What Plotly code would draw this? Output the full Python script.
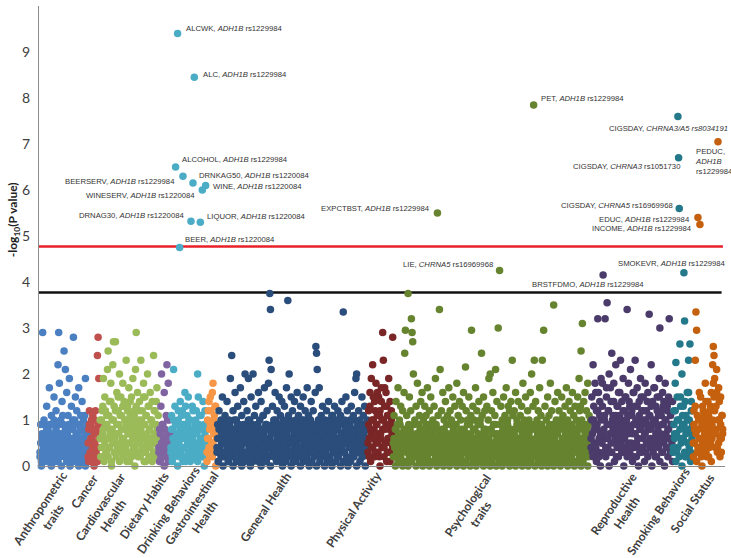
import plotly.graph_objects as go

# ---------------- data ----------------
categories = ["Anthropometric<br>traits", "Cancer", "Cardiovascular<br>Health", "Dietary Habits",
              "Drinking Behaviors", "Gastrointestinal<br>Health", "General Health", "Physical Activity",
              "Psychological<br>traits", "Reproductive<br>Health", "Smoking Behaviors", "Social Status"]

# lead SNP result per phenotype (in phenotype order)
anthro = [0.3,0.9,0.1,0.6,2.9,0.4,1.0,0.2,0.7,0.5,1.3,0.1,
          0.8,0.3,1.7,0.6,0.2,1.1,0.4,0.9,0.1,1.5,0.6,0.3,
          1.2,0.5,0.7,2.2,2.9,1.8,0.2,1.0,0.6,1.4,0.3,0.9,
          2.5,0.4,2.1,0.7,1.6,0.1,1.1,0.5,1.9,0.8,0.3,1.3,
          0.6,1.0,2.8,0.2,0.9,1.5,0.4,1.2,0.7,0.1,1.7,0.5,
          0.8,1.1,0.3,1.4,0.6,1.0,0.2,0.7,1.9,0.4,0.9,0.1]
cancer = [0.2,0.8,1.2,0.5,0.9,0.1,0.6,1.1,0.3,0.7,1.0,0.4,0.8,0.2,2.4,2.8,1.9,0.6]
cardio = [0.4,1.2,0.7,1.9,0.2,1.5,0.9,0.3,1.1,2.1,2.5,0.6,1.4,0.8,1.8,0.1,1.0,2.2,2.7,1.3,0.5,2.7,0.7,1.6,
          0.3,1.2,0.9,2.0,0.4,1.5,1.1,0.6,1.8,0.2,1.4,0.8,1.0,2.3,0.5,1.3,0.7,1.7,0.1,1.1,0.9,1.5,0.3,1.9,
          0.6,1.2,0.4,2.1,2.9,0.8,1.6,0.2,1.0,1.4,0.5,2.3,0.7,1.2,0.3,1.8,0.9,1.5,0.1,1.1,0.6,2.0,0.4,1.3,
          0.8,1.6,0.2,1.0,1.4,0.5,2.4,0.7,1.2,0.3,0.9,1.7,0.6,1.1,0.2,1.5]
dietary = [0.3,0.8,0.1,1.3,2.0,0.5,0.9,0.2,1.6,0.6,0.4,1.1,2.2,0.7,1.8,0.3,1.0,0.5]
drinking = [0.4,1.1,0.2,0.8,2.1,0.5,1.3,6.5,0.9,0.3,9.4,1.0,
            0.6,4.75,1.4,0.2,0.7,1.2,6.3,0.4,0.9,1.6,0.1,0.8,
            1.1,0.5,1.5,0.3,0.7,1.0,5.32,0.6,1.3,6.15,0.2,8.45,
            0.9,0.4,1.2,0.7,2.0,1.5,0.3,1.1,5.3,0.6,0.8,6.0,
            1.4,0.2,0.9,1.2,6.1,0.5]
gastro = [0.3,1.0,0.6,1.4,0.2,0.9,1.2,0.5,1.6,1.8,0.7,1.1,0.4,1.3,0.8]
general = [0.4,0.9,0.1,1.2,0.6,0.3,1.0,0.7,1.5,0.2,0.8,0.5,1.1,0.3,0.9,1.4,0.6,0.1,1.0,0.4,
           1.9,0.7,2.4,0.2,1.2,0.8,0.5,1.6,0.3,1.0,0.6,1.3,0.1,0.9,0.4,1.7,0.7,1.1,0.2,0.8,
           1.4,0.5,2.0,0.9,0.3,1.2,0.6,1.9,0.1,1.0,0.7,1.5,0.4,0.8,2.0,0.2,1.1,0.6,1.3,0.3,
           0.9,0.5,1.6,0.2,1.0,0.7,1.4,0.4,0.8,1.1,0.3,1.7,0.6,0.9,0.1,1.2,0.5,1.8,2.3,3.75,
           3.4,2.1,0.7,1.3,0.4,1.0,0.2,1.6,0.8,0.5,1.2,0.3,0.9,1.5,0.6,1.1,0.1,1.4,0.7,1.0,
           0.4,1.3,0.8,0.2,1.7,0.6,3.6,1.1,2.0,0.3,0.9,1.5,0.5,1.2,0.1,0.8,1.4,0.6,1.0,0.3,
           1.6,0.7,1.1,0.4,0.9,1.3,0.2,1.0,0.6,1.5,0.3,0.8,1.2,0.5,0.9,1.7,0.1,1.1,0.7,0.4,
           1.0,1.4,0.3,0.8,1.2,0.5,0.9,1.6,2.6,2.45,2.1,0.6,1.0,1.7,0.2,0.8,1.1,0.4,1.3,0.7,
           0.9,0.3,1.0,0.6,1.2,0.2,0.8,1.4,0.5,1.0,0.1,0.7,1.1,0.4,0.9,0.6,1.3,0.3,0.8,1.0,
           0.5,1.2,0.2,0.9,0.6,1.1,0.4,1.4,0.7,3.35,0.3,1.0,0.8,1.5,0.5,1.2,0.1,0.9,0.6,1.0,
           0.4,1.3,0.7,0.2,1.1,0.8,1.6,0.5,1.9,2.0,0.3,0.9,1.2,0.6,1.0,0.4,0.8,1.5,0.2,1.1,
           0.7,1.3,0.4,0.9,0.6,1.0]
physical = [0.5,1.2,0.2,1.6,0.8,1.9,0.4,2.2,1.0,0.6,1.4,0.3,1.8,0.9,1.1,0.5,1.5,0.2,1.2,0.7,
            1.7,1.0,2.9,2.3,0.4,1.3,0.8,1.6,0.1,1.1,0.6,1.9,0.3,1.4,0.9,1.2,0.5,2.8]
psych = [0.5,1.1,0.2,0.8,1.4,0.4,0.9,1.7,0.3,1.0,0.6,1.3,0.1,0.7,1.2,0.4,1.6,2.45,2.95,0.8,
         1.1,0.3,3.75,0.9,1.5,0.5,1.2,3.2,2.9,2.7,2.0,0.6,1.0,0.2,1.3,0.7,1.8,0.4,0.9,1.1,
         0.3,1.4,0.8,1.6,0.5,1.0,0.2,1.3,0.7,1.1,0.4,1.7,0.9,0.6,1.2,0.3,1.5,0.8,0.1,1.0,
         0.6,1.3,0.4,1.9,0.9,0.2,5.5,1.1,0.7,3.4,2.1,0.5,1.2,0.8,1.6,0.3,1.0,0.6,1.4,0.2,
         0.9,1.1,0.5,1.7,0.3,1.2,0.7,1.0,0.4,1.5,0.8,0.1,1.3,0.6,0.9,1.8,0.4,1.1,0.7,1.4,
         0.2,1.0,0.6,1.3,0.5,1.6,0.8,0.3,2.15,1.2,0.7,1.0,0.4,1.5,0.9,0.2,1.1,2.95,0.6,1.3,
         0.3,1.0,0.8,1.7,0.5,1.2,0.1,0.9,1.4,0.6,1.0,0.3,2.45,1.1,0.7,1.5,0.4,1.2,0.8,0.2,
         1.3,0.6,1.0,1.9,0.4,2.0,0.8,1.2,0.3,1.6,0.9,0.5,1.1,2.1,0.7,1.4,0.2,3.0,0.6,4.25,
         0.9,1.3,0.5,1.0,0.2,1.5,0.8,1.1,0.4,1.7,0.6,1.0,1.3,0.3,1.2,0.7,1.4,0.5,2.3,1.1,
         0.4,1.2,0.8,1.6,0.3,1.0,0.6,1.4,0.1,0.9,1.1,0.5,1.3,0.7,1.8,0.2,1.0,0.6,1.5,0.9,
         0.3,1.2,0.7,1.0,0.4,1.6,0.8,2.0,0.5,1.3,7.85,2.3,0.9,1.4,0.6,1.0,0.3,1.2,0.8,1.7,
         0.5,1.1,0.9,2.3,0.4,2.95,0.7,1.3,0.2,1.0,0.6,1.5,0.3,1.1,0.8,1.8,0.5,1.2,0.1,0.9,
         3.5,0.6,1.4,0.3,1.0,0.7,1.6,0.4,1.2,0.8,1.0,0.2,1.5,0.6,1.1,0.9,0.3,1.3,0.5,1.7,
         0.8,1.0,0.4,1.4,0.7,1.2,0.2,0.9,1.6,0.5,1.1,0.3,1.3,0.8,1.0,0.6,1.5,0.4,1.9,1.2,
         1.3,2.5,1.0,3.1,0.3,1.4,0.9,1.6,0.5,1.2,0.8,1.8,0.2,1.1,0.6,1.0]
repro = [0.6,1.5,0.3,2.2,1.0,0.8,1.8,0.4,1.2,0.9,3.2,1.6,0.2,1.1,0.7,1.9,0.5,1.3,4.15,0.8,
         1.0,3.2,0.4,1.7,3.55,0.6,1.2,2.0,0.9,0.3,1.4,2.45,0.7,1.1,1.8,0.5,1.0,2.2,0.2,1.3,
         0.8,1.6,0.4,1.1,2.3,0.6,1.4,0.9,1.9,0.3,1.2,0.7,1.5,1.0,3.4,0.5,1.8,0.8,1.3,2.1,
         0.4,1.1,0.7,1.6,0.2,1.3,2.3,0.9,0.5,1.7,1.0,0.6,1.4,0.3,1.9,0.8,1.2,0.4,1.5,1.0,
         0.7,1.8,0.3,1.2,0.9,1.6,0.5,3.3,1.1,0.8,2.2,0.4,1.4,1.0,0.6,1.7,0.2,1.3,0.9,1.5,
         0.5,1.1,1.9,3.0,0.7,1.2,0.3,1.6,0.9,1.4,0.6,1.8,1.0,0.4,1.3,0.8,1.5,3.2,0.6,1.1,
         0.3,0.9,1.4]
smoking = [0.4,1.2,0.7,1.8,2.25,0.3,1.0,7.6,6.7,5.6,2.65,1.5,0.6,2.0,0.9,1.3,4.2,3.15,0.2,1.1,
           0.8,1.6,0.5,2.3,1.0,2.65,0.3,1.4,0.7,1.2]
social = [0.5,1.2,0.8,2.3,3.35,2.95,0.3,5.4,1.0,0.6,5.25,1.5,0.2,0.9,1.3,0.4,1.1,0.7,1.8,0.3,
          1.0,0.6,1.4,0.2,0.8,1.2,0.5,1.6,0.9,2.2,2.6,2.4,1.9,0.7,1.3,2.1,0.4,7.05,1.7,1.0,
          0.6,1.5,0.3,1.1,0.8]

# results of the other SNPs for the same phenotypes
anthro2 = [0.2,0.5,0.0,0.7,0.3,0.9,0.1,0.4,0.6,0.2,0.8,0.3,
           0.5,0.1,0.9,0.4,0.7,0.0,0.3,0.6,0.2,1.0,0.5,0.1,
           0.8,0.3,0.6,0.1,0.4,0.9,0.2,0.7,0.0,0.5,1.1,0.3,
           0.6,0.2,0.8,0.4,0.1,0.7,0.3,0.9,0.5,0.0,0.6,0.2,
           0.4,0.8,0.1,0.5,1.0,0.3,0.7,0.2,0.6,0.4,0.0,0.9,
           0.3,0.5,0.1,0.8,0.2,0.6,0.4,1.1,0.0,0.5,0.3,0.7]
cancer2 = [0.5,0.1,0.9,0.3,0.6,1.0,0.2,0.4,0.8,0.0,0.5,1.2,0.3,0.7,0.1,0.9,0.4,0.2]
cardio2 = [0.6,0.2,1.0,0.4,1.3,0.8,0.1,0.5,1.2,0.3,0.9,0.6,0.2,1.1,0.4,0.7,1.4,0.0,0.8,0.5,
           1.0,0.3,0.6,1.2,0.2,0.9,0.4,1.5,0.7,0.1,1.1,0.5,0.8,0.3,1.3,0.6,0.2,1.0,0.4,0.9,
           0.1,1.2,0.7,0.3,0.5,1.4,0.8,0.2,1.0,0.6,0.4,1.1,0.0,0.7,1.3,0.5,0.9,0.3,1.2,0.6,
           0.2,0.8,1.0,0.4,0.6,1.5,0.1,0.9,0.3,1.1,0.7,0.5,1.3,0.2,0.8,0.4,1.0,0.6,0.1,0.9,
           0.3,1.2,0.5,0.7,1.4,0.2,0.8,0.4,1.0,0.6]
dietary2 = [0.4,0.1,0.7,0.2,0.5,0.9,0.3,0.6,0.0,0.8,0.2,0.5,0.4,1.0,0.1,0.6,0.3,0.7]
drinking2 = [0.3,0.8,0.1,0.6,1.0,0.2,0.5,0.9,0.4,0.7,0.0,1.2,
             0.5,0.2,0.8,0.3,1.1,0.6,0.1,0.9,0.4,0.7,1.3,0.2,
             0.6,0.9,0.3,1.0,0.5,0.1,0.8,0.4,0.6,1.2,0.3,0.7,
             0.2,1.0,0.5,0.8,0.1,0.4,0.9,0.3,0.6,1.1,0.2,0.5,
             0.8,0.4,0.0,0.7,0.3,0.9]
gastro2 = [0.1,0.6,1.2,0.4,0.8,1.5,0.3,0.9,0.2,0.5,1.0,0.7,1.3,0.0,0.6]
general2 = [0.3,0.6,0.1,0.8,0.4,0.9,0.2,0.5,0.7,0.0,1.0,0.3,0.6,0.2,0.8,0.4,0.5,0.1,0.7,0.9,
            0.2,0.5,0.3,0.8,0.0,0.6,1.0,0.4,0.7,0.1,0.5,0.9,0.3,0.6,0.2,0.8,0.4,0.0,0.7,0.5,
            0.9,0.1,0.6,0.3,0.8,0.2,0.5,1.0,0.4,0.7,0.0,0.3,0.6,0.9,0.1,0.5,0.8,0.2,0.4,0.7,
            0.3,0.9,0.1,0.6,0.4,0.8,0.0,0.5,0.2,1.1,0.7,0.3,0.6,0.1,0.9,0.4,0.8,0.2,0.5,0.6,
            0.0,0.7,0.3,0.9,0.5,0.2,0.8,0.4,1.0,0.1,0.6,0.3,0.7,0.5,0.9,0.2,0.4,0.8,0.0,0.6,
            0.3,0.5,0.9,0.1,0.7,0.4,0.2,0.8,0.6,1.0,0.3,0.0,0.5,0.9,0.2,0.7,0.4,0.6,0.1,0.8,
            0.5,0.2,0.9,0.3,0.6,0.0,0.8,0.4,0.7,0.1,1.0,0.5,0.3,0.6,0.2,0.9,0.4,0.8,0.0,0.7,
            0.3,0.6,0.1,0.5,0.9,0.2,0.7,0.4,0.8,0.0,0.6,0.3,1.0,0.5,0.1,0.7,0.9,0.2,0.4,0.6,
            0.8,0.0,0.5,0.3,0.7,0.1,0.9,0.4,0.6,0.2,0.8,0.5,0.0,1.1,0.3,0.7,0.4,0.9,0.1,0.6,
            0.2,0.8,0.5,0.3,1.0,0.0,0.7,0.4,0.6,0.1,0.9,0.3,0.5,0.8,0.2,0.6,0.0,0.7,0.4,0.9,
            0.1,0.5,0.8,0.3,0.6,0.2,1.0,0.4,0.7,0.0,0.5,0.9,0.3,0.6,0.1,0.8,0.4,0.2,0.7,0.5,
            0.3,0.9,0.0,0.6,0.4,0.8]
physical2 = [0.3,0.9,0.6,1.3,0.1,0.7,1.0,0.4,1.5,0.8,0.2,1.2,0.5,0.9,1.6,0.3,0.7,1.1,0.0,0.6,
             1.4,0.4,0.8,1.0,0.2,1.7,0.5,0.9,1.3,0.3,0.6,1.1,0.8,0.1,0.5,1.0,0.7,0.4]
psych2 = [0.2,0.6,0.4,0.0,0.8,0.3,0.5,0.1,0.7,0.4,0.9,0.2,0.6,0.3,0.0,0.5,0.8,0.1,0.4,0.7,
          0.3,0.6,0.0,0.5,0.2,0.8,0.4,0.1,0.7,0.3,0.6,0.9,0.2,0.5,0.0,0.4,0.7,0.3,0.6,0.1,
          0.8,0.2,0.5,0.4,0.0,0.7,0.3,0.6,0.1,0.9,0.4,0.2,0.5,0.8,0.0,0.3,0.6,0.4,0.7,0.1,
          0.5,0.3,0.9,0.2,0.6,0.0,0.4,0.8,0.1,0.5,0.7,0.3,0.2,0.6,0.4,0.0,0.8,0.5,0.1,0.3,
          0.7,0.4,0.2,0.6,0.0,0.9,0.3,0.5,0.1,0.7,0.4,0.8,0.2,0.6,0.3,0.0,0.5,0.7,0.1,0.4,
          0.6,0.2,0.8,0.3,0.5,0.0,0.4,0.7,0.1,0.6,0.3,0.9,0.2,0.5,0.4,0.0,0.7,0.3,0.6,0.1,
          0.8,0.4,0.2,0.5,0.0,0.6,0.3,0.7,0.1,0.4,0.9,0.2,0.5,0.3,0.6,0.0,0.8,0.4,0.1,0.7,
          0.3,0.5,0.2,0.6,0.4,0.0,0.8,0.1,0.5,0.3,0.7,0.2,0.4,0.9,0.0,0.6,0.3,0.5,0.1,0.7,
          0.4,0.2,0.6,0.0,0.8,0.3,0.5,0.1,0.7,0.4,0.2,0.9,0.3,0.6,0.0,0.5,0.8,0.1,0.4,0.6,
          0.2,0.7,0.3,0.0,0.5,0.9,0.1,0.4,0.6,0.2,0.8,0.3,0.5,0.0,0.7,0.4,0.1,0.6,0.3,0.8,
          0.5,0.2,0.0,0.7,0.4,0.6,0.1,0.9,0.3,0.5,0.2,0.8,0.0,0.4,0.6,0.3,0.7,0.1,0.5,0.2,
          0.9,0.4,0.0,0.6,0.3,0.7,0.1,0.5,0.8,0.2,0.4,0.0,0.6,0.3,0.9,0.1,0.5,0.7,0.2,0.4,
          0.0,0.6,0.8,0.3,0.5,0.1,0.7,0.4,0.2,0.9,0.0,0.5,0.3,0.6,0.1,0.8,0.4,0.2,0.7,0.5,
          0.3,0.0,0.6,0.9,0.1,0.4,0.7,0.2,0.5,0.3,0.8,0.0,0.6,0.4,0.1,0.7,0.3,0.5,0.9,0.2,
          0.6,0.0,0.4,0.8,0.1,0.5,0.3,0.7,0.2,0.6,0.4,0.0,0.9,0.5,0.3,0.7]
repro2 = [0.4,1.0,0.7,0.2,1.3,0.5,0.9,1.6,0.1,0.8,1.2,0.3,0.6,1.4,0.0,1.0,0.5,1.8,0.7,0.3,
          1.1,0.6,0.2,1.5,0.9,0.4,1.2,0.0,0.7,1.7,0.5,0.3,1.0,0.8,1.4,0.1,0.6,1.1,0.9,0.4,
          1.3,0.2,0.7,1.6,0.5,1.0,0.3,0.8,1.2,0.0,0.6,1.5,0.4,0.9,0.2,1.1,0.7,1.4,0.3,0.8,
          0.5,1.2,0.1,0.9,1.6,0.4,0.7,1.0,0.2,1.3,0.6,0.0,1.1,0.8,0.4,1.5,0.3,0.9,0.6,1.2,
          0.1,0.7,1.0,0.5,1.4,0.2,0.8,1.1,0.4,0.6,1.3,0.0,0.9,0.3,1.7,0.5,1.0,0.7,0.2,1.2,
          0.8,0.4,1.5,0.1,0.6,1.1,0.9,0.3,1.3,0.5,0.0,1.0,0.7,0.4,1.2,0.2,0.8,0.6,1.4,0.3,
          0.9,0.5,0.1]
smoking2 = [0.3,0.9,0.6,1.2,0.1,0.7,1.5,0.4,1.0,0.2,0.8,1.3,0.5,0.0,1.1,0.6,0.9,0.3,1.4,0.7,
            0.2,1.0,0.5,1.6,0.4,0.8,0.1,1.2,0.6,0.9]
social2 = [0.2,0.9,0.5,1.3,0.7,0.1,1.1,0.4,0.8,1.6,0.3,0.6,1.0,0.0,0.5,1.2,0.8,0.3,0.6,1.4,
           0.2,0.9,0.5,1.1,0.4,0.7,1.3,0.1,0.6,1.0,1.8,1.5,1.2,0.4,0.8,1.6,0.3,1.0,0.5,1.4,
           0.2,0.9,0.6,1.1,0.7]

series = [anthro, cancer, cardio, dietary, drinking, gastro, general, physical, psych, repro, smoking, social]
series2 = [anthro2, cancer2, cardio2, dietary2, drinking2, gastro2, general2, physical2, psych2, repro2,
           smoking2, social2]

colors = ["#4A7FC1", "#C0504D", "#9BBB59", "#8064A2", "#4BACC6", "#F79646",
          "#2B4D7B", "#7A2626", "#66842F", "#4B3B6B", "#23788A", "#C5600E"]

# significance thresholds (-log10 P)
bonferroni = 4.77
suggestive = 3.77

# labelled hits: (category index, value, text, xanchor, xshift, yshift)
hits = [
    (4, 9.4, "ALCWK, <i>ADH1B</i> rs1229984", "left", 6, 5),
    (4, 8.45, "ALC, <i>ADH1B</i> rs1229984", "left", 7, 3),
    (4, 6.5, "ALCOHOL, <i>ADH1B</i> rs1229984", "left", 4, 8),
    (4, 6.3, "BEERSERV, <i>ADH1B</i> rs1229984", "right", -6, -5),
    (4, 6.15, "DRNKAG50, <i>ADH1B</i> rs1220084", "left", 4, 8),
    (4, 6.0, "WINESERV, <i>ADH1B</i> rs1220084", "right", -5, -5),
    (4, 6.1, "WINE, <i>ADH1B</i> rs1220084", "left", 5, -1),
    (4, 5.32, "DRNAG30, <i>ADH1B</i> rs1220084", "right", -5, 6),
    (4, 5.3, "LIQUOR, <i>ADH1B</i> rs1220084", "left", 5, 6),
    (4, 4.75, "BEER, <i>ADH1B</i> rs1220084", "left", 3, 8),
    (8, 7.85, "PET, <i>ADH1B</i> rs1229984", "left", 5, 6),
    (8, 5.5, "EXPCTBST, <i>ADH1B</i> rs1229984", "right", -5, 5),
    (8, 4.25, "LIE, <i>CHRNA5</i> rs16969968", "right", -5, 6),
    (9, 4.15, "BRSTFDMO, <i>ADH1B</i> rs1229984", "center", -15, -9),
    (10, 7.6, "CIGSDAY, <i>CHRNA3/A5 rs8034191</i>", "right", 52, -12),
    (10, 6.7, "CIGSDAY, <i>CHRNA3</i> rs1051730", "right", 3, -9),
    (10, 5.6, "CIGSDAY, <i>CHRNA5</i> rs16969968", "right", -4, 3),
    (10, 4.2, "SMOKEVR, <i>ADH1B</i> rs1229984", "right", 44, 9),
    (11, 7.05, "PEDUC,<br><i>ADH1B</i><br>rs1229984", "left", -25, -20),
    (11, 5.4, "EDUC, <i>ADH1B</i> rs1229984", "right", -6, -2),
    (11, 5.25, "INCOME, <i>ADH1B</i> rs1229984", "right", -6, -4),
]

# offsets (px) of the rotated category captions' centres from the category centre on the axis
label_dx = [-17.7, -9.7, -22.7, -20.7, -21, -13.7, -27, -27, -18.3, -12, -25, -16]
label_dy = [-47, -25, -45, -39, -44, -46, -41, -43, -44, -42, -45, -37]

# ---------------- figure ----------------
fig = go.Figure()
offsets = []
centers = []
start = 0
for ys, ys2, col in zip(series, series2, colors):
    xs = list(range(start, start + len(ys)))
    fig.add_trace(go.Scatter(x=xs + xs, y=ys2 + ys, mode="markers",
                             marker=dict(color=col, size=7.5, line=dict(width=0)),
                             cliponaxis=False, showlegend=False, hoverinfo="skip"))
    offsets.append(start)
    centers.append(start + (len(ys) - 1) / 2)
    start += len(ys)
total = start

for cat, val, text, xa, xs_, ys_ in hits:
    idx = offsets[cat] + series[cat].index(val)
    fig.add_annotation(x=idx, y=val, text=text, showarrow=False, xanchor=xa, yanchor="middle",
                       xshift=xs_, yshift=ys_, align="left",
                       font=dict(family="Liberation Sans, Arial", size=7.7, color="#333333"))

for name, cx, dx, dy in zip(categories, centers, label_dx, label_dy):
    fig.add_annotation(x=cx, y=0, xref="x", yref="paper", text="<b>" + name + "</b>",
                       showarrow=False, textangle=-56, xanchor="center", yanchor="middle",
                       xshift=dx, yshift=dy, align="center",
                       font=dict(family="Lato", size=12, color="#404040"))

fig.add_annotation(x=-0.036, y=0.535, xref="paper", yref="paper",
                   text="<b>-log<sub>10</sub>(P value)</b>", showarrow=False, textangle=-90,
                   xanchor="center", yanchor="middle",
                   font=dict(family="Lato", size=12, color="#222222"))

fig.add_shape(type="line", xref="x domain", yref="y", x0=0, x1=0.997, y0=bonferroni, y1=bonferroni,
              line=dict(color="#E8202A", width=2.5), layer="below")
fig.add_shape(type="line", xref="x domain", yref="y", x0=0, x1=0.995, y0=suggestive, y1=suggestive,
              line=dict(color="#111111", width=2.5), layer="below")

fig.update_layout(
    template="none",
    width=731, height=558,
    margin=dict(l=39, r=6, t=6, b=92),
    paper_bgcolor="white", plot_bgcolor="white",
    font=dict(family="Lato, Open Sans, sans-serif", color="#404040"),
    xaxis=dict(range=[-1.5, total + 2.5], showticklabels=False, showgrid=False, zeroline=False,
               showline=True, linecolor="#8c8c8c", linewidth=1, ticks="", automargin=False),
    yaxis=dict(range=[0, 10], dtick=1, showgrid=False, zeroline=False, showline=True,
               linecolor="#8c8c8c", linewidth=1, ticks="", automargin=False,
               ticklabelstandoff=5,
               tickfont=dict(family="Lato", size=14, color="#404040")),
)

fig.write_html("out.html", config={"displayModeBar": False},
               post_script="document.body.style.margin='0';")
